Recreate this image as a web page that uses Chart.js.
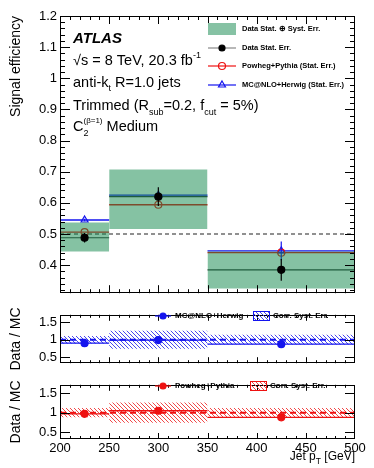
<!DOCTYPE html>
<html>
<head>
<meta charset="utf-8">
<title>Signal efficiency</title>
<script src="https://cdn.jsdelivr.net/npm/chart.js@4.4.1/dist/chart.umd.min.js"></script>
<style>
    body { margin: 0; background: #fff; }
    #wrap { position: relative; width: 374px; height: 468px; overflow: hidden; }
    #wrap canvas { position: absolute; left: 0; }
</style>
</head>
<body>
<div id="wrap">
    <canvas id="effChart" width="374" height="304" style="top:0px"></canvas>
    <canvas id="herwigChart" width="374" height="70" style="top:304px"></canvas>
    <canvas id="pythiaChart" width="374" height="94" style="top:374px"></canvas>
</div>
<script>
// jet pT bins [GeV]
const binEdges = [200, 250, 350, 500]
const binCenters = [225, 300, 425]

// signal efficiency (top panel)
const dataEff = [0.488, 0.620, 0.385]
const dataStat = [0.015, 0.030, 0.035]
const dataTotUp = [0.537, 0.707, 0.444]
const dataTotDown = [0.444, 0.516, 0.325]
const pythiaEff = [0.506, 0.594, 0.440]
const herwigEff = [0.545, 0.625, 0.446]
const herwigStat = [0.004, 0.004, 0.030]

// data / MC panels
const ratioHerwig = [0.90, 0.99, 0.87]
const ratioHerwigStat = [0.02, 0.02, 0.06]
const corrSystHerwig = [0.11, 0.26, 0.14]
const ratioPythia = [0.97, 1.05, 0.88]
const ratioPythiaStat = [0.02, 0.02, 0.04]
const corrSystPythia = [0.12, 0.26, 0.12]

// tick labels
const ptTicks = [200, 250, 300, 350, 400, 450, 500]
const effTicks = [0.4, 0.5, 0.6, 0.7, 0.8, 0.9, 1, 1.1, 1.2]
const ratioTicks = [0.5, 1, 1.5]

document.addEventListener('DOMContentLoaded', () => {
    const family = "'Liberation Sans', Arial, Helvetica, sans-serif"
    Chart.defaults.font.family = family
    Chart.defaults.color = '#000'

    const red = '#ee1111'
    const blue = '#1414ee'
    const green = 'rgba(12, 133, 72, 0.5)'
    const none = 'rgba(0,0,0,0)'

    // minor tick positions (ROOT style, inside the frame)
    const ptMinor = []
    for (let v = 210; v < 500; v += 10) if (v % 50 !== 0) ptMinor.push(v)
    const effMinor = []
    for (let i = 16; i < 60; i++) if (i % 5 !== 0) effMinor.push(i / 50)

    // flat line over each bin, broken at the bin edges
    function perBin(values) {
        const pts = []
        values.forEach((v, i) => {
            pts.push({ x: binEdges[i], y: v }, { x: binEdges[i + 1], y: v }, { x: binEdges[i + 1], y: null })
        })
        return pts
    }

    // vertical error bars at the bin centres
    function errBars(values, errs) {
        const pts = []
        values.forEach((v, i) => {
            pts.push({ x: binCenters[i], y: v - errs[i] }, { x: binCenters[i], y: v + errs[i] }, { x: binCenters[i], y: null })
        })
        return pts
    }

    function lineSet(data, color, width, order, extra) {
        return Object.assign({
            type: 'line', data: data, borderColor: color, borderWidth: width,
            pointRadius: 0, fill: false, spanGaps: false, order: order
        }, extra || {})
    }

    // one filled box per bin: upper edge filled down to the next dataset (lower edge)
    function boxes(up, down, fillStyle, order) {
        const sets = []
        up.forEach((u, i) => {
            const x0 = binEdges[i], x1 = binEdges[i + 1]
            sets.push(lineSet([{ x: x0, y: u }, { x: x1, y: u }], none, 0, order, { fill: '+1', backgroundColor: fillStyle }))
            sets.push(lineSet([{ x: x0, y: down[i] }, { x: x1, y: down[i] }], none, 0, order))
        })
        return sets
    }

    function markers(values, color, style, radius, filled, order) {
        return {
            type: 'line', showLine: false, order: order,
            data: values.map((v, i) => ({ x: binCenters[i], y: v })),
            pointStyle: style, pointRadius: radius, pointBorderWidth: 1.2,
            pointBorderColor: color, pointBackgroundColor: filled ? color : none
        }
    }

    function hatch(color) {
        const c = document.createElement('canvas')
        c.width = 4; c.height = 4
        const g = c.getContext('2d')
        g.strokeStyle = color
        g.lineWidth = 1
        g.beginPath()
        g.moveTo(-1, -1); g.lineTo(5, 5)
        g.moveTo(-1, 3); g.lineTo(1, 5)
        g.moveTo(3, -1); g.lineTo(5, 1)
        g.stroke()
        return g.createPattern(c, 'repeat')
    }

    // text with sub/superscripts: [text, size, dy, style, keepX]
    function rich(ctx, x, y, parts) {
        parts.forEach(p => {
            ctx.font = (p[3] || '') + ' ' + p[1] + 'px ' + family
            ctx.fillText(p[0], x, y + (p[2] || 0))
            if (!p[4]) x += ctx.measureText(p[0]).width
        })
        return x
    }
    function richWidth(ctx, parts) {
        let w = 0
        parts.forEach(p => {
            ctx.font = (p[3] || '') + ' ' + p[1] + 'px ' + family
            if (!p[4]) w += ctx.measureText(p[0]).width
        })
        return w
    }

    // frame + inward ticks on all four sides
    const frameTicks = {
        id: 'frameTicks',
        afterDraw(chart, args, o) {
            const { ctx, chartArea: a } = chart
            const sx = chart.scales.x, sy = chart.scales.y
            ctx.save()
            ctx.strokeStyle = '#000'
            ctx.lineWidth = 1
            ctx.beginPath()
            const xt = (vals, len) => vals.forEach(v => {
                const px = Math.round(sx.getPixelForValue(v)) + 0.5
                ctx.moveTo(px, a.bottom); ctx.lineTo(px, a.bottom - len)
                ctx.moveTo(px, a.top); ctx.lineTo(px, a.top + len)
            })
            const yt = (vals, len) => vals.forEach(v => {
                const py = Math.round(sy.getPixelForValue(v)) + 0.5
                ctx.moveTo(a.left, py); ctx.lineTo(a.left + len, py)
                ctx.moveTo(a.right, py); ctx.lineTo(a.right - len, py)
            })
            xt(o.xMajor, o.xMajorLen); xt(o.xMinor, o.xMinorLen)
            yt(o.yMajor, o.yMajorLen); yt(o.yMinor, o.yMinorLen)
            ctx.stroke()
            ctx.strokeRect(Math.round(a.left) + 0.5, Math.round(a.top) + 0.5,
                Math.round(a.right - a.left) - 1, Math.round(a.bottom - a.top) - 1)
            ctx.restore()
        }
    }

    // ATLAS label and legend of the top panel
    const effText = {
        id: 'effText',
        afterDraw(chart) {
            const ctx = chart.ctx
            const H = Chart.helpers
            ctx.save()
            ctx.fillStyle = '#000'
            ctx.textBaseline = 'alphabetic'
            rich(ctx, 73, 43, [['ATLAS', 15, 0, 'italic bold']])
            rich(ctx, 73, 65, [['√s = 8 TeV, 20.3 fb', 14.5], ['-1', 9, -7]])
            rich(ctx, 73, 87, [['anti-k', 14.5], ['t', 9, 4], [' R=1.0 jets', 14.5]])
            rich(ctx, 73, 110, [['Trimmed (R', 14.5], ['sub', 9, 5], ['=0.2, f', 14.5], ['cut', 9, 5], [' = 5%)', 14.5]])
            rich(ctx, 73, 131, [['C', 14.5], ['2', 9, 5, '', true], ['(β=1)', 8, -8], [' Medium', 14.5]])

            // legend
            ctx.fillStyle = '#86c2a4'
            ctx.fillRect(208, 23, 28, 12)
            const rows = [
                { y: 48, line: '#888', style: 'circle', r: 3, color: '#000', fill: '#000' },
                { y: 66, line: red, style: 'circle', r: 3.5, color: red, fill: none },
                { y: 85, line: blue, style: 'triangle', r: 4, color: blue, fill: none }
            ]
            rows.forEach(r => {
                ctx.strokeStyle = r.line
                ctx.lineWidth = 1.2
                ctx.beginPath(); ctx.moveTo(208, r.y); ctx.lineTo(236, r.y); ctx.stroke()
                ctx.strokeStyle = r.color
                ctx.fillStyle = r.fill
                H.drawPoint(ctx, { pointStyle: r.style, radius: r.r, borderWidth: 1.2, rotation: 0 }, 222, r.y)
            })
            ctx.fillStyle = '#000'
            ctx.textBaseline = 'middle'
            ctx.font = 'bold 7.5px ' + family
            ctx.fillText('Data Stat. ⊕ Syst. Err.', 242, 29)
            ctx.fillText('Data Stat. Err.', 242, 48)
            ctx.fillText('Powheg+Pythia (Stat. Err.)', 242, 66)
            ctx.fillText('MC@NLO+Herwig (Stat. Err.)', 242, 85)
            ctx.restore()
        }
    }

    // legend of the ratio panels and the x title
    const ratioText = {
        id: 'ratioText',
        afterDraw(chart, args, o) {
            const ctx = chart.ctx
            ctx.save()
            ctx.strokeStyle = o.color
            ctx.fillStyle = o.color
            ctx.lineWidth = 1.2
            ctx.beginPath(); ctx.moveTo(155, o.y); ctx.lineTo(171, o.y); ctx.stroke()
            Chart.helpers.drawPoint(ctx, { pointStyle: 'circle', radius: 3, borderWidth: 1, rotation: 0 }, 163, o.y)
            ctx.fillStyle = o.pattern
            ctx.fillRect(o.boxX, o.y - 5, 17, 10)
            ctx.lineWidth = 1
            ctx.strokeRect(o.boxX + 0.5, o.y - 4.5, 16, 9)
            ctx.fillStyle = '#000'
            ctx.textBaseline = 'middle'
            ctx.font = 'bold 8px ' + family
            ctx.fillText(o.label, 175, o.y)
            ctx.fillText('Corr. Syst. Err.', o.boxX + 20, o.y)
            if (o.xTitle) {
                const parts = [['Jet p', 12], ['T', 8.5, 4], [' [GeV]', 12]]
                ctx.textBaseline = 'alphabetic'
                rich(ctx, 355 - richWidth(ctx, parts), 86, parts)
            }
            ctx.restore()
        }
    }

    function panelOptions(o) {
        return {
            responsive: false,
            animation: false,
            layout: { padding: { top: o.top, bottom: o.bottom, left: 0, right: 19 } },
            plugins: {
                legend: { display: false },
                tooltip: { enabled: false },
                filler: { drawTime: 'beforeDatasetDraw' },
                frameTicks: o.ticks,
                ratioText: o.key || {}
            },
            scales: {
                x: {
                    type: 'linear', min: 200, max: 500,
                    grid: { display: false, drawTicks: false },
                    border: { display: false },
                    ticks: { display: o.xLabels, font: { size: 13 }, padding: 2, maxRotation: 0, autoSkip: false, callback: v => String(v) },
                    afterBuildTicks: s => { s.ticks = ptTicks.map(v => ({ value: v })) },
                    afterFit: s => { s.height = o.xHeight }
                },
                y: {
                    type: 'linear', min: o.yMin, max: o.yMax,
                    grid: { display: false, drawTicks: false },
                    border: { display: false },
                    ticks: { font: { size: 13 }, padding: 3, callback: v => String(+v.toFixed(2)) },
                    afterBuildTicks: s => { s.ticks = o.yTicks.map(v => ({ value: v })) },
                    afterFit: s => { s.width = 60 },
                    title: { display: true, text: o.title, align: o.titleAlign, font: { size: 14 }, padding: { top: 8 } }
                }
            }
        }
    }

    // top panel: signal efficiency
    new Chart(document.getElementById('effChart'), {
        type: 'line',
        data: {
            datasets: [
                lineSet([{ x: 200, y: 0.5 }, { x: 500, y: 0.5 }], '#222', 1.2, 6, { borderDash: [4, 3] }),
                lineSet(perBin(dataEff), '#333', 1.2, 5),
                lineSet(perBin(pythiaEff), red, 1.3, 5),
                lineSet(perBin(herwigEff), blue, 1.3, 5),
                lineSet(errBars(herwigEff, herwigStat), blue, 1.2, 4),
                lineSet(errBars(dataEff, dataStat), '#000', 1.2, 2),
                markers(pythiaEff, red, 'circle', 3.5, false, 4),
                markers(herwigEff, blue, 'triangle', 4, false, 4),
                markers(dataEff, '#000', 'circle', 3.5, true, 1)
            ].concat(boxes(dataTotUp, dataTotDown, green, 3))
        },
        options: panelOptions({
            top: 16, bottom: 2, xHeight: 0, xLabels: false,
            yMin: 0.31, yMax: 1.2, yTicks: effTicks,
            title: 'Signal efficiency', titleAlign: 'end',
            ticks: {
                xMajor: ptTicks.slice(1, -1), xMajorLen: 8, xMinor: ptMinor, xMinorLen: 4,
                yMajor: effTicks, yMajorLen: 10, yMinor: effMinor, yMinorLen: 5
            }
        }),
        plugins: [frameTicks, effText]
    })

    // ratio panels
    function ratioChart(id, ratio, stat, syst, color, hatchColor, label, box) {
        const pattern = hatch(hatchColor)
        return new Chart(document.getElementById(id), {
            type: 'line',
            data: {
                datasets: [
                    lineSet([{ x: 200, y: 1 }, { x: 500, y: 1 }], color, 2, 2, { borderDash: [6, 4] }),
                    lineSet(perBin(ratio), color, 1.3, 2),
                    lineSet(errBars(ratio, stat), color, 1.3, 2),
                    markers(ratio, color, 'circle', 3.5, true, 1)
                ].concat(boxes(syst.map(e => 1 + e), syst.map(e => 1 - e), pattern, 3))
            },
            options: panelOptions(Object.assign({
                yMin: 0.32, yMax: 1.72, yTicks: ratioTicks,
                title: 'Data / MC', titleAlign: 'center',
                ticks: {
                    xMajor: ptTicks.slice(1, -1), xMajorLen: 6, xMinor: ptMinor, xMinorLen: 3,
                    yMajor: ratioTicks, yMajorLen: 10, yMinor: [], yMinorLen: 0
                },
                key: Object.assign({ color: color, pattern: pattern, label: label }, box.legendPos)
            }, box)),
            plugins: [frameTicks, ratioText]
        })
    }

    ratioChart('herwigChart', ratioHerwig, ratioHerwigStat, corrSystHerwig, blue, '#4848ee', 'MC@NLO+Herwig',
        { top: 3, bottom: 5, xHeight: 0, xLabels: false, legendPos: { y: 12, boxX: 253 } })
    ratioChart('pythiaChart', ratioPythia, ratioPythiaStat, corrSystPythia, red, '#f04848', 'Powheg+Pythia',
        { top: 4, bottom: 0, xHeight: 29, xLabels: true, legendPos: { y: 12, boxX: 250, xTitle: true } })
})
</script>
</body>
</html>
